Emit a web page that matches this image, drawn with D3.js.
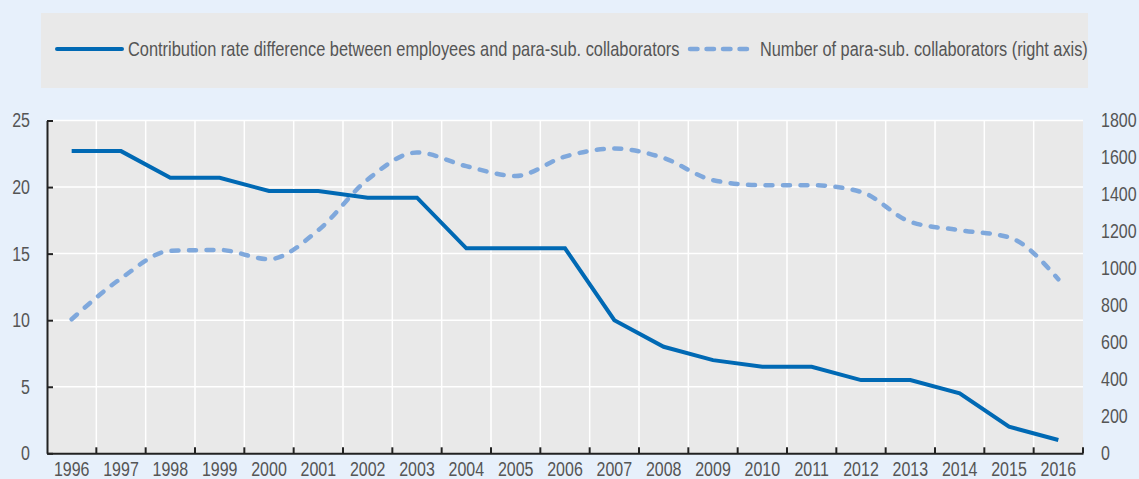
<!DOCTYPE html>
<html>
<head>
<meta charset="utf-8">
<script src="https://cdn.jsdelivr.net/npm/d3@7"></script>
<style>
  body { margin: 0; background: #e7f0fb; }
  svg { display: block; }
  text { font-family: "Liberation Sans", Arial, sans-serif; fill: #555; }
</style>
</head>
<body>
<svg id="chart" width="1139" height="479"></svg>
<script>
const years = ['1996','1997','1998','1999','2000','2001','2002','2003','2004','2005','2006',
  '2007','2008','2009','2010','2011','2012','2013','2014','2015','2016'];
// left axis, percentage points
const rateDiff = [22.7, 22.7, 20.7, 20.7, 19.7, 19.7, 19.2, 19.2, 15.4, 15.4, 15.4,
  10, 8, 7, 6.5, 6.5, 5.5, 5.5, 4.5, 2, 1];
// right axis, thousands
const collaborators = [725, 946, 1095, 1100, 1050, 1207, 1481, 1627, 1553, 1500, 1605,
  1648, 1597, 1477, 1450, 1450, 1414, 1252, 1207, 1168, 941];
const leftTicks = [0, 5, 10, 15, 20, 25];
const rightTicks = [0, 200, 400, 600, 800, 1000, 1200, 1400, 1600, 1800];
const legendLabels = ['Contribution rate difference between employees and para-sub. collaborators',
  'Number of para-sub. collaborators (right axis)'];

const solidColor = '#0069b4';
const dashColor = '#7fa8dc';
const squeeze = 0.8; // no narrow font installed, so squash a normal one

const svg = d3.select('#chart');
const pLeft = 47, pRight = 1083, pTop = 120.5, pBottom = 453.3;

// squash texts horizontally keeping their anchor point in place
function narrow(sel, k) {
  sel.each(function() {
    const t = d3.select(this);
    const x0 = +t.attr('x') || 0;
    t.attr('x', x0 / k).attr('transform', 'scale(' + k + ',1)');
  });
}

const x = d3.scaleBand().domain(years).range([pLeft, pRight]).padding(0);
const yL = d3.scaleLinear().domain([0, 25]).range([pBottom, pTop]);
const yR = d3.scaleLinear().domain([0, 1800]).range([pBottom, pTop]);
const cx = d => x(d) + x.bandwidth() / 2;

// legend box
const lg = svg.append('g');
lg.append('rect').attr('x', 41).attr('y', 13).attr('width', 1047).attr('height', 75).attr('fill', '#e9e9e9');
lg.append('line').attr('x1', 57).attr('x2', 122).attr('y1', 49).attr('y2', 49)
  .attr('stroke', solidColor).attr('stroke-width', 4).attr('stroke-linecap', 'round');
lg.append('text').attr('x', 128).attr('y', 49).attr('dy', '0.35em').style('font-size', '20px')
  .text(legendLabels[0]).call(narrow, 0.82);
lg.append('line').attr('x1', 690).attr('x2', 754).attr('y1', 49).attr('y2', 49)
  .attr('stroke', dashColor).attr('stroke-width', 4.5).attr('stroke-linecap', 'round')
  .attr('stroke-dasharray', '7.5,9');
lg.append('text').attr('x', 760).attr('y', 49).attr('dy', '0.35em').style('font-size', '20px')
  .text(legendLabels[1]).call(narrow, 0.815);

// plot background
svg.append('rect').attr('x', pLeft).attr('y', pTop).attr('width', pRight - pLeft).attr('height', pBottom - pTop).attr('fill', '#e9e9e9');

// grid
const grid = svg.append('g').attr('stroke', '#fff').attr('stroke-width', 1.5);
grid.selectAll('.h').data(leftTicks.slice(1)).join('line')
  .attr('x1', pLeft).attr('x2', pRight).attr('y1', d => yL(d)).attr('y2', d => yL(d));
grid.selectAll('.v').data(years.slice(1)).join('line')
  .attr('x1', d => x(d)).attr('x2', d => x(d)).attr('y1', pTop).attr('y2', pBottom);

// left axis
const gl = svg.append('g').attr('transform', 'translate(' + pLeft + ',0)')
  .call(d3.axisLeft(yL).tickValues(leftTicks).tickSizeInner(-6).tickSizeOuter(0).tickPadding(17));
gl.select('.domain').attr('stroke', '#222').attr('stroke-width', 2);
gl.selectAll('line').attr('stroke', '#222').attr('stroke-width', 2);
gl.selectAll('text').style('font-size', '20px').attr('fill', '#555').call(narrow, squeeze);

// right axis
const gr = svg.append('g').attr('transform', 'translate(' + pRight + ',0)')
  .call(d3.axisRight(yR).tickValues(rightTicks).tickFormat(d3.format('d')).tickSize(0).tickPadding(18));
gr.select('.domain').remove();
gr.selectAll('text').style('font-size', '20px').attr('fill', '#555').call(narrow, squeeze);

// bottom axis (labels sit at the very bottom edge, as in the original)
const gb = svg.append('g').attr('transform', 'translate(0,' + pBottom + ')')
  .call(d3.axisBottom(x).tickSize(0).tickPadding(8.5));
gb.select('.domain').attr('stroke', '#222').attr('stroke-width', 2);
gb.selectAll('text').style('font-size', '19.5px').attr('fill', '#555').call(narrow, 0.82);
gb.selectAll('.bt').data(years.slice(1).map(d => x(d)).concat([pRight])).join('line')
  .attr('x1', d => d).attr('x2', d => d).attr('y1', 0).attr('y2', -6)
  .attr('stroke', '#222').attr('stroke-width', 2);

// lines
const dashLine = d3.line().x((d, i) => cx(years[i])).y(d => yR(d)).curve(d3.curveMonotoneX);
svg.append('path').datum(collaborators).attr('d', dashLine)
  .attr('fill', 'none').attr('stroke', dashColor).attr('stroke-width', 4.5)
  .attr('stroke-dasharray', '7,10.5').attr('stroke-linecap', 'round');

const solidLine = d3.line().x((d, i) => cx(years[i])).y(d => yL(d));
svg.append('path').datum(rateDiff).attr('d', solidLine)
  .attr('fill', 'none').attr('stroke', solidColor).attr('stroke-width', 4).attr('stroke-linejoin', 'miter');
</script>
</body>
</html>
